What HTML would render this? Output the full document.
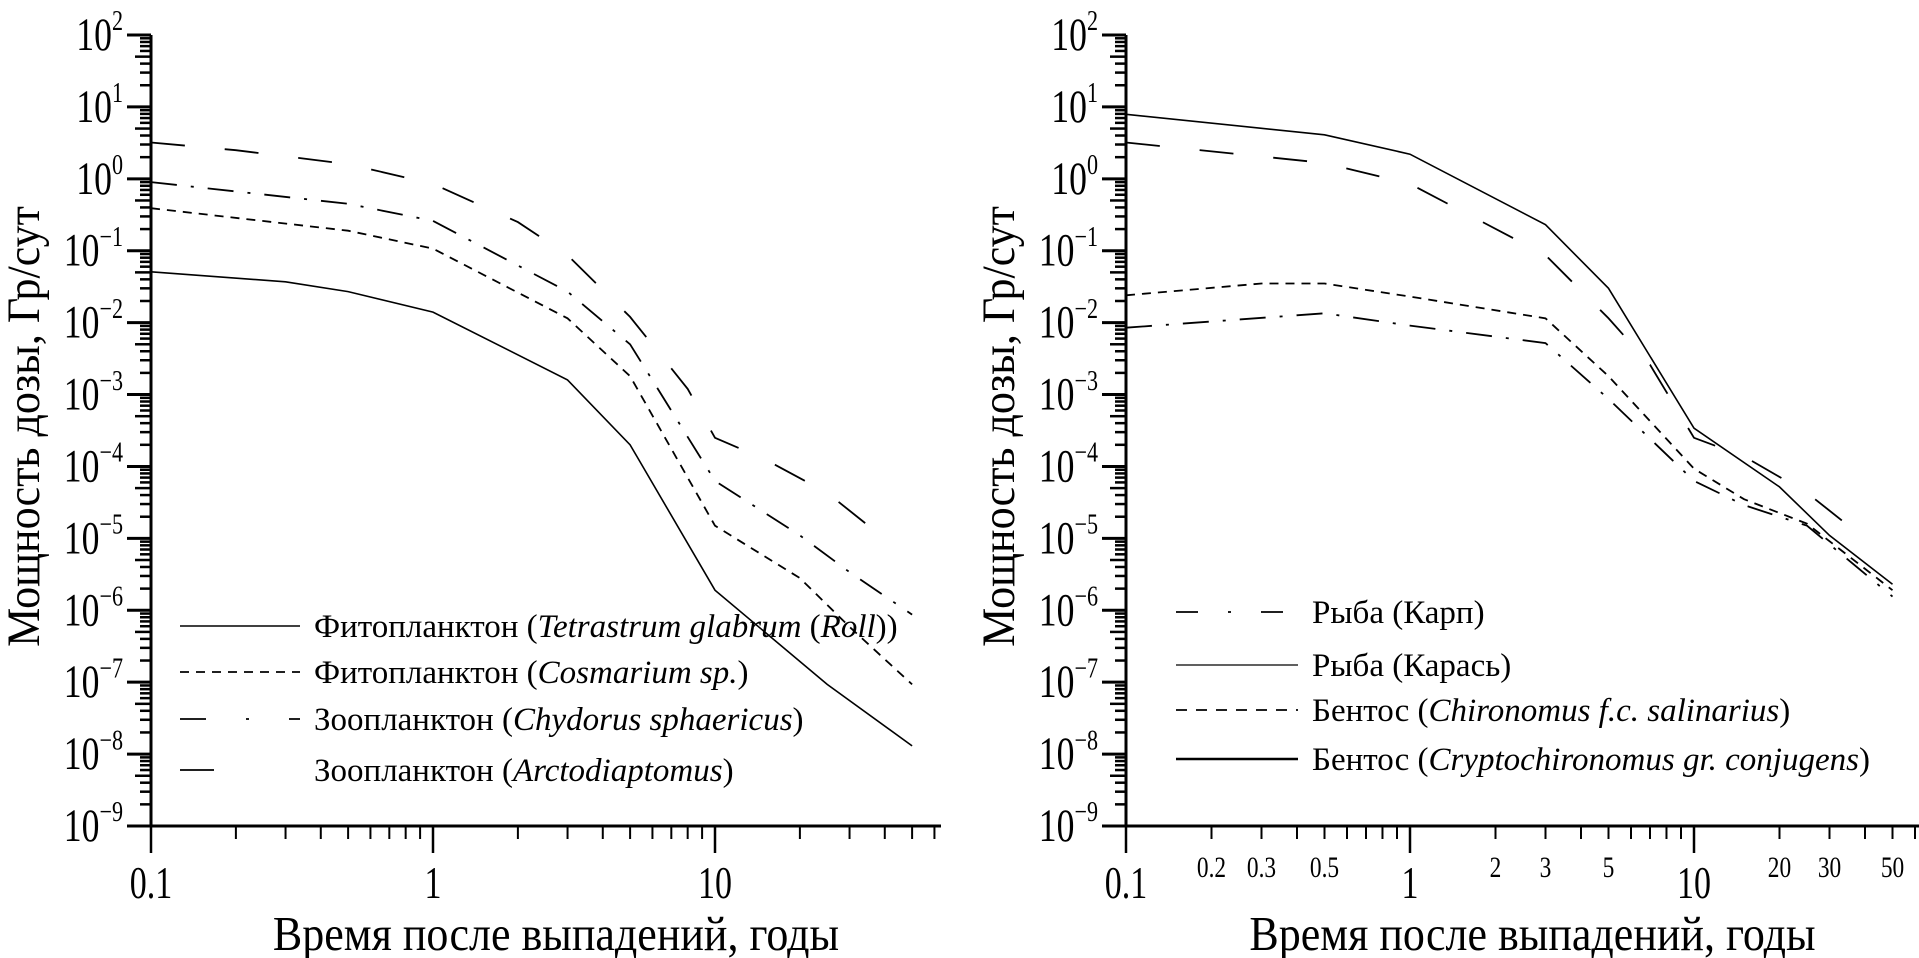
<!DOCTYPE html>
<html><head><meta charset="utf-8"><style>
html,body{margin:0;padding:0;background:#fff;}
svg{display:block;font-family:"Liberation Serif",serif;}
</style></head><body>
<svg id="chart" width="1919" height="958" viewBox="0 0 1919 958"></svg>
<script>
// ---- data: left panel ----
const leftT1 = [0.1, 0.3, 0.5, 1, 3, 5, 10, 25, 50];
const leftTetrastrum = [0.051, 0.037, 0.027, 0.014, 0.0016, 0.0002, 1.9e-6, 9.3e-8, 1.3e-8];
const leftT2 = [0.1, 0.5, 1, 3, 5, 10, 20, 30, 50];
const leftCosmarium = [0.39, 0.19, 0.107, 0.0115, 0.0018, 1.5e-5, 2.8e-6, 5.9e-7, 9.3e-8];
const leftChydorus = [0.9, 0.45, 0.26, 0.027, 0.005, 6.3e-5, 1.1e-5, 3.4e-6, 8.7e-7];
const leftT3 = [0.1, 0.2, 0.5, 1, 2, 3, 5, 8, 10, 15, 25, 35];
const leftArcto = [3.2, 2.5, 1.6, 0.85, 0.25, 0.087, 0.012, 0.0012, 0.00025, 0.000126, 4.3e-5, 1.5e-5];
// ---- data: right panel ----
const rightT1 = [0.1, 0.5, 1, 3, 5, 10, 20, 30, 50];
const rightKaras = [7.9, 4.1, 2.2, 0.23, 0.03, 0.00034, 5.2e-5, 1.1e-5, 2.3e-6];
const rightT2 = [0.1, 0.5, 1, 3, 5, 7, 10, 15, 25, 35];
const rightKarp = [3.2, 1.66, 0.85, 0.087, 0.0115, 0.0026, 0.00025, 0.000138, 4.3e-5, 1.5e-5];
const rightT3 = [0.1, 0.3, 0.5, 1, 3, 5, 10, 15, 25, 50];
const rightChironomus = [0.024, 0.035, 0.035, 0.023, 0.0115, 0.0018, 9.3e-5, 3.5e-5, 1.6e-5, 1.9e-6];
const rightT4 = [0.1, 0.5, 1, 3, 5, 10, 15, 25, 50];
const rightCrypto = [0.0085, 0.0135, 0.0091, 0.0052, 0.00087, 6.3e-5, 2.9e-5, 1.5e-5, 1.55e-6];
const yTickExp = [2,1,0,-1,-2,-3,-4,-5,-6,-7,-8,-9];
const xMajor = ["0.1","1","10"];
const xMinorRight = ["0.2","0.3","0.5","2","3","5","20","30","50"];

const NS="http://www.w3.org/2000/svg";
const svg=document.getElementById('chart');
function mk(tag,attrs,parent){const e=document.createElementNS(NS,tag);for(const k in attrs)e.setAttribute(k,attrs[k]);(parent||svg).appendChild(e);return e;}

const TOP=35, BOT=826, DEC=(BOT-TOP)/11;
function yScale(v){return TOP+(2-Math.log10(v))*DEC;}
function makeX(x0,dec){return v=>x0+(Math.log10(v)+1)*dec;}

function panel(name,x0,dec,xEnd){
  const g=mk('g',{});
  
  
  const xs=makeX(x0,dec);
  const ya=mk('line',{x1:x0,y1:TOP,x2:x0,y2:BOT,stroke:'#000','stroke-width':3},g);
  
  const xa=mk('line',{x1:x0-20,y1:BOT,x2:xEnd,y2:BOT,stroke:'#000','stroke-width':3},g);
  
  yTickExp.forEach((e,i)=>{
    const y=yScale(Math.pow(10,e));
    mk('line',{x1:x0-24,y1:y,x2:x0,y2:y,stroke:'#000','stroke-width':3},g);
    const t=mk('text',{x:0,y:0,'font-size':42,'text-anchor':'end',transform:'translate('+(x0-28)+','+(y+15)+') scale(0.85,1.1)'},g);
    
    t.innerHTML='10<tspan dy="-18" font-size="26">'+(e<0?'−'+(-e):e)+'</tspan>';
    if(e>-9){for(let m=2;m<=9;m++){const ym=yScale(m*Math.pow(10,e-1));mk('line',{x1:x0-(m==5?16:11),y1:ym,x2:x0,y2:ym,stroke:'#000','stroke-width':2.5},g);}}
  });
  for(let d=-1;d<=1;d++){
    for(let m=1;m<=9;m++){
      const v=m*Math.pow(10,d);const x=xs(v);if(x>xEnd+1)continue;
      mk('line',{x1:x,y1:BOT,x2:x,y2:BOT+(m==1?27:13),stroke:'#000','stroke-width':m==1?2.5:2},g);
    }
  }
  xMajor.forEach((s)=>{const t=mk('text',{x:0,y:0,'font-size':40,'text-anchor':'middle',transform:'translate('+xs(parseFloat(s))+',898) scale(0.85,1.15)'},g);t.textContent=s;});
  const xt=mk('text',{x:0,y:0,'font-size':44,'text-anchor':'middle',transform:'translate('+(x0+(xEnd-x0)/2+10)+',950) scale(1,1.1)'},g);
  xt.textContent='Время после выпадений, годы';
  
  const yt=mk('text',{x:0,y:0,'font-size':44,'text-anchor':'middle',transform:'translate('+(x0-112)+','+(TOP+(BOT-TOP)/2-4)+') rotate(-90) scale(1,1.05)'},g);
  yt.textContent='Мощность дозы, Гр/сут';
  
  return {g,xs};
}
function series(p,ts,vs,dash,w,name){
  const d=ts.map((t,i)=>(i?'L':'M')+p.xs(t).toFixed(1)+','+yScale(vs[i]).toFixed(1)).join(' ');
  const e=mk('path',{d:d,fill:'none',stroke:'#000','stroke-width':w,'stroke-dasharray':dash},p.g);
  
  
}
function legend(p,x1,x2,y,dash,w,html,name){
  const l=mk('line',{x1:x1,y1:y,x2:x2,y2:y,stroke:'#000','stroke-width':w,'stroke-dasharray':dash},p.g);
  
  const t=mk('text',{x:x2+14,y:y+11,'font-size':33},p.g);
  t.innerHTML=html;
  
}
const L=panel('left-panel',151,282,941);
series(L,leftT1,leftTetrastrum,'',1.6,'line-tetrastrum');
series(L,leftT2,leftCosmarium,'9 7',1.8,'line-cosmarium');
series(L,leftT2,leftChydorus,'26 14 3 14',1.8,'line-chydorus');
series(L,leftT3,leftArcto,'34 40',1.8,'line-arctodiaptomus');
legend(L,180,300,626,'',1.6,'Фитопланктон (<tspan font-style="italic">Tetrastrum glabrum</tspan> (<tspan font-style="italic">Roll</tspan>))','legend-tetrastrum');
legend(L,180,300,672,'9 7',1.8,'Фитопланктон (<tspan font-style="italic">Cosmarium sp.</tspan>)','legend-cosmarium');
legend(L,180,300,719,'26 40 3 40',1.8,'Зоопланктон (<tspan font-style="italic">Chydorus sphaericus</tspan>)','legend-chydorus');
legend(L,180,300,770,'34 200',1.8,'Зоопланктон (<tspan font-style="italic">Arctodiaptomus</tspan>)','legend-arctodiaptomus');

const R=panel('right-panel',1126,284,1919);
xMinorRight.forEach(s=>{const t=mk('text',{x:0,y:0,'font-size':26,'text-anchor':'middle',transform:'translate('+R.xs(parseFloat(s))+',877) scale(0.9,1.15)'},R.g);t.textContent=s;});
series(R,rightT1,rightKaras,'',1.6,'line-karas');
series(R,rightT2,rightKarp,'34 40',1.8,'line-karp');
series(R,rightT3,rightChironomus,'9 7',1.8,'line-chironomus');
series(R,rightT4,rightCrypto,'26 14 3 14',1.8,'line-cryptochironomus');
legend(R,1176,1298,612,'22 30 3 30',1.8,'Рыба (Карп)','legend-karp');
legend(R,1176,1298,665,'',1.2,'Рыба (Карась)','legend-karas');
legend(R,1176,1298,710,'11 9',1.8,'Бентос (<tspan font-style="italic">Chironomus f.c. salinarius</tspan>)','legend-chironomus');
legend(R,1176,1298,759,'',2.5,'Бентос (<tspan font-style="italic">Cryptochironomus gr. conjugens</tspan>)','legend-cryptochironomus');
</script>
</body></html>
